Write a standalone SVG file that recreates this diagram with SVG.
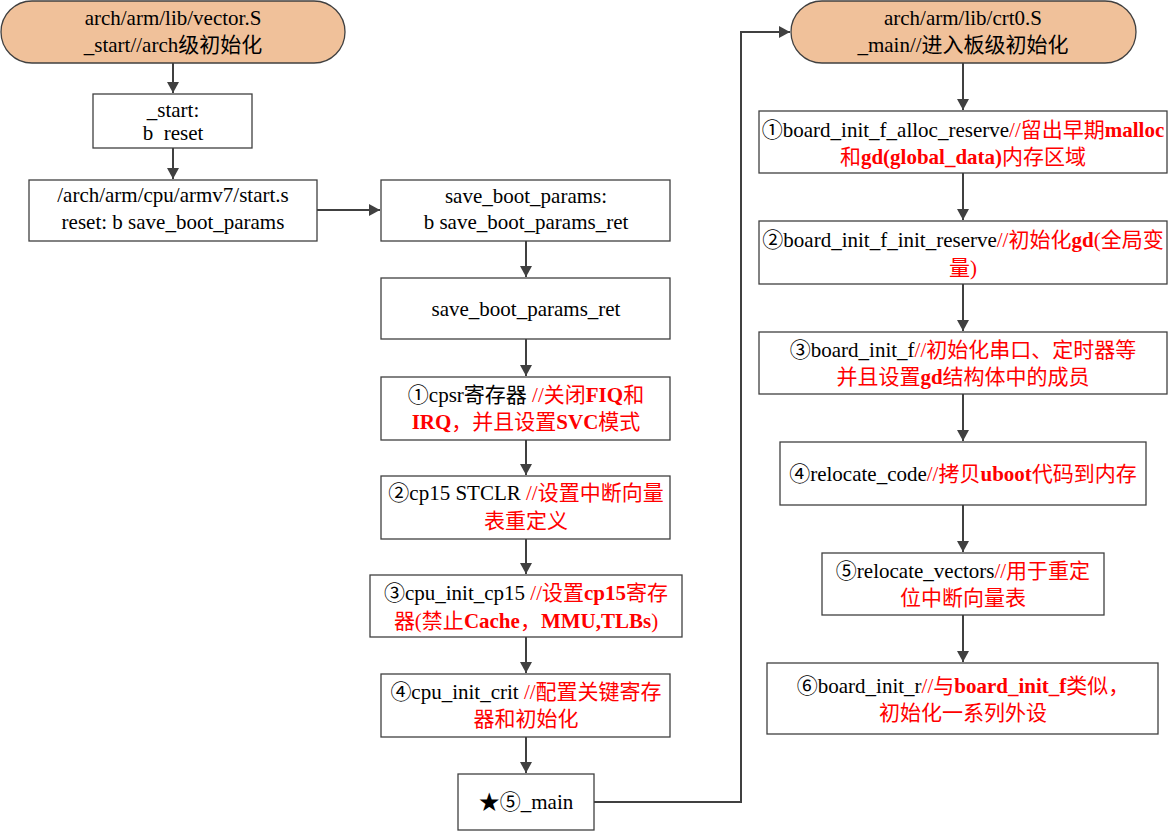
<svg xmlns="http://www.w3.org/2000/svg" width="1168" height="832" viewBox="0 0 1168 832">
<style>
.n{fill:#fff;stroke:#404040;stroke-width:1.3}
.t{fill:#f0c19a;stroke:#404040;stroke-width:1.3}
text{font-family:"Liberation Serif","Noto Sans CJK SC",serif;font-size:21px;fill:#000;text-anchor:middle}
.r{fill:#ff0000}
.b{font-weight:bold}
.c{fill:none;stroke:#404040;stroke-width:2}
</style>
<defs>
<marker id="ah" markerWidth="12" markerHeight="12" refX="11" refY="6" orient="auto" markerUnits="userSpaceOnUse">
<path d="M0,0 L11,6 L0,12 Z" fill="#404040"/>
</marker>
</defs>
<g id="connectors">
<path class="c" d="M173,63 V93" marker-end="url(#ah)"/>
<path class="c" d="M173,148 V179" marker-end="url(#ah)"/>
<path class="c" d="M317,210 H380" marker-end="url(#ah)"/>
<path class="c" d="M526,241 V277" marker-end="url(#ah)"/>
<path class="c" d="M526,339 V376" marker-end="url(#ah)"/>
<path class="c" d="M526,440 V475" marker-end="url(#ah)"/>
<path class="c" d="M526,539 V574" marker-end="url(#ah)"/>
<path class="c" d="M526,637 V673" marker-end="url(#ah)"/>
<path class="c" d="M526,737 V773" marker-end="url(#ah)"/>
<path class="c" d="M594,802 H741 V32 H790" marker-end="url(#ah)"/>
<path class="c" d="M963,63 V110" marker-end="url(#ah)"/>
<path class="c" d="M963,173 V220" marker-end="url(#ah)"/>
<path class="c" d="M963,284 V331" marker-end="url(#ah)"/>
<path class="c" d="M963,394 V441" marker-end="url(#ah)"/>
<path class="c" d="M963,505 V552" marker-end="url(#ah)"/>
<path class="c" d="M963,615 V662" marker-end="url(#ah)"/>
</g>
<g id="vector">
<rect class="t" x="1" y="1" width="344" height="62" rx="31"/>
<text x="173" y="25">arch/arm/lib/vector.S</text>
<text x="173" y="52">_start//arch级初始化</text>
</g>
<g id="start">
<rect class="n" x="93" y="94" width="159" height="54"/>
<text x="173" y="117">_start:</text>
<text x="173" y="140" xml:space="preserve">b  reset</text>
</g>
<g id="starts">
<rect class="n" x="29" y="180" width="288" height="61"/>
<text x="173" y="202">/arch/arm/cpu/armv7/start.s</text>
<text x="173" y="229">reset: b save_boot_params</text>
</g>
<g id="sbp">
<rect class="n" x="381" y="180" width="289" height="61"/>
<text x="526" y="203">save_boot_params:</text>
<text x="526" y="229">b save_boot_params_ret</text>
</g>
<g id="sbpr">
<rect class="n" x="381" y="278" width="289" height="61"/>
<text x="526" y="316">save_boot_params_ret</text>
</g>
<g id="cpsr">
<rect class="n" x="381" y="377" width="289" height="63"/>
<text x="526" y="402">①cpsr寄存器 <tspan class="r">//关闭<tspan class="b">FIQ</tspan>和</tspan></text>
<text x="526" y="429" class="r"><tspan class="b">IRQ</tspan>，并且设置<tspan class="b">SVC</tspan>模式</text>
</g>
<g id="cp15">
<rect class="n" x="381" y="476" width="289" height="63"/>
<text x="526" y="500">②cp15 STCLR <tspan class="r">//设置中断向量</tspan></text>
<text x="526" y="528" class="r">表重定义</text>
</g>
<g id="cpuinitcp15">
<rect class="n" x="370" y="575" width="312" height="62"/>
<text x="526" y="600">③cpu_init_cp15 <tspan class="r">//设置<tspan class="b">cp15</tspan>寄存</tspan></text>
<text x="526" y="628" class="r">器(禁止<tspan class="b">Cache</tspan>，<tspan class="b">MMU,TLBs</tspan>)</text>
</g>
<g id="crit">
<rect class="n" x="381" y="674" width="289" height="63"/>
<text x="526" y="699">④cpu_init_crit <tspan class="r">//配置关键寄存</tspan></text>
<text x="526" y="726" class="r">器和初始化</text>
</g>
<g id="main">
<rect class="n" x="458" y="774" width="136" height="56"/>
<text x="526" y="809">★⑤_main</text>
</g>
<g id="crt0">
<rect class="t" x="791" y="1" width="345" height="62" rx="31"/>
<text x="963" y="25">arch/arm/lib/crt0.S</text>
<text x="963" y="52">_main//进入板级初始化</text>
</g>
<g id="alloc">
<rect class="n" x="759" y="111" width="408" height="62"/>
<text x="963" y="137">①board_init_f_alloc_reserve<tspan class="r">//留出早期<tspan class="b">malloc</tspan></tspan></text>
<text x="963" y="164" class="r">和<tspan class="b">gd(global_data)</tspan>内存区域</text>
</g>
<g id="initres">
<rect class="n" x="759" y="221" width="408" height="63"/>
<text x="963" y="247">②board_init_f_init_reserve<tspan class="r">//初始化<tspan class="b">gd</tspan>(全局变</tspan></text>
<text x="963" y="275" class="r">量)</text>
</g>
<g id="initf">
<rect class="n" x="759" y="332" width="408" height="62"/>
<text x="963" y="357">③board_init_f<tspan class="r">//初始化串口、定时器等</tspan></text>
<text x="963" y="384" class="r">并且设置<tspan class="b">gd</tspan>结构体中的成员</text>
</g>
<g id="relocode">
<rect class="n" x="780" y="442" width="366" height="63"/>
<text x="963" y="481">④relocate_code<tspan class="r">//拷贝<tspan class="b">uboot</tspan>代码到内存</tspan></text>
</g>
<g id="relovec">
<rect class="n" x="822" y="553" width="282" height="62"/>
<text x="963" y="578">⑤relocate_vectors<tspan class="r">//用于重定</tspan></text>
<text x="963" y="605" class="r">位中断向量表</text>
</g>
<g id="initr">
<rect class="n" x="767" y="663" width="391" height="71"/>
<text x="963" y="693">⑥board_init_r<tspan class="r">//与<tspan class="b">board_init_f</tspan>类似，</tspan></text>
<text x="963" y="720" class="r">初始化一系列外设</text>
</g>
</svg>
